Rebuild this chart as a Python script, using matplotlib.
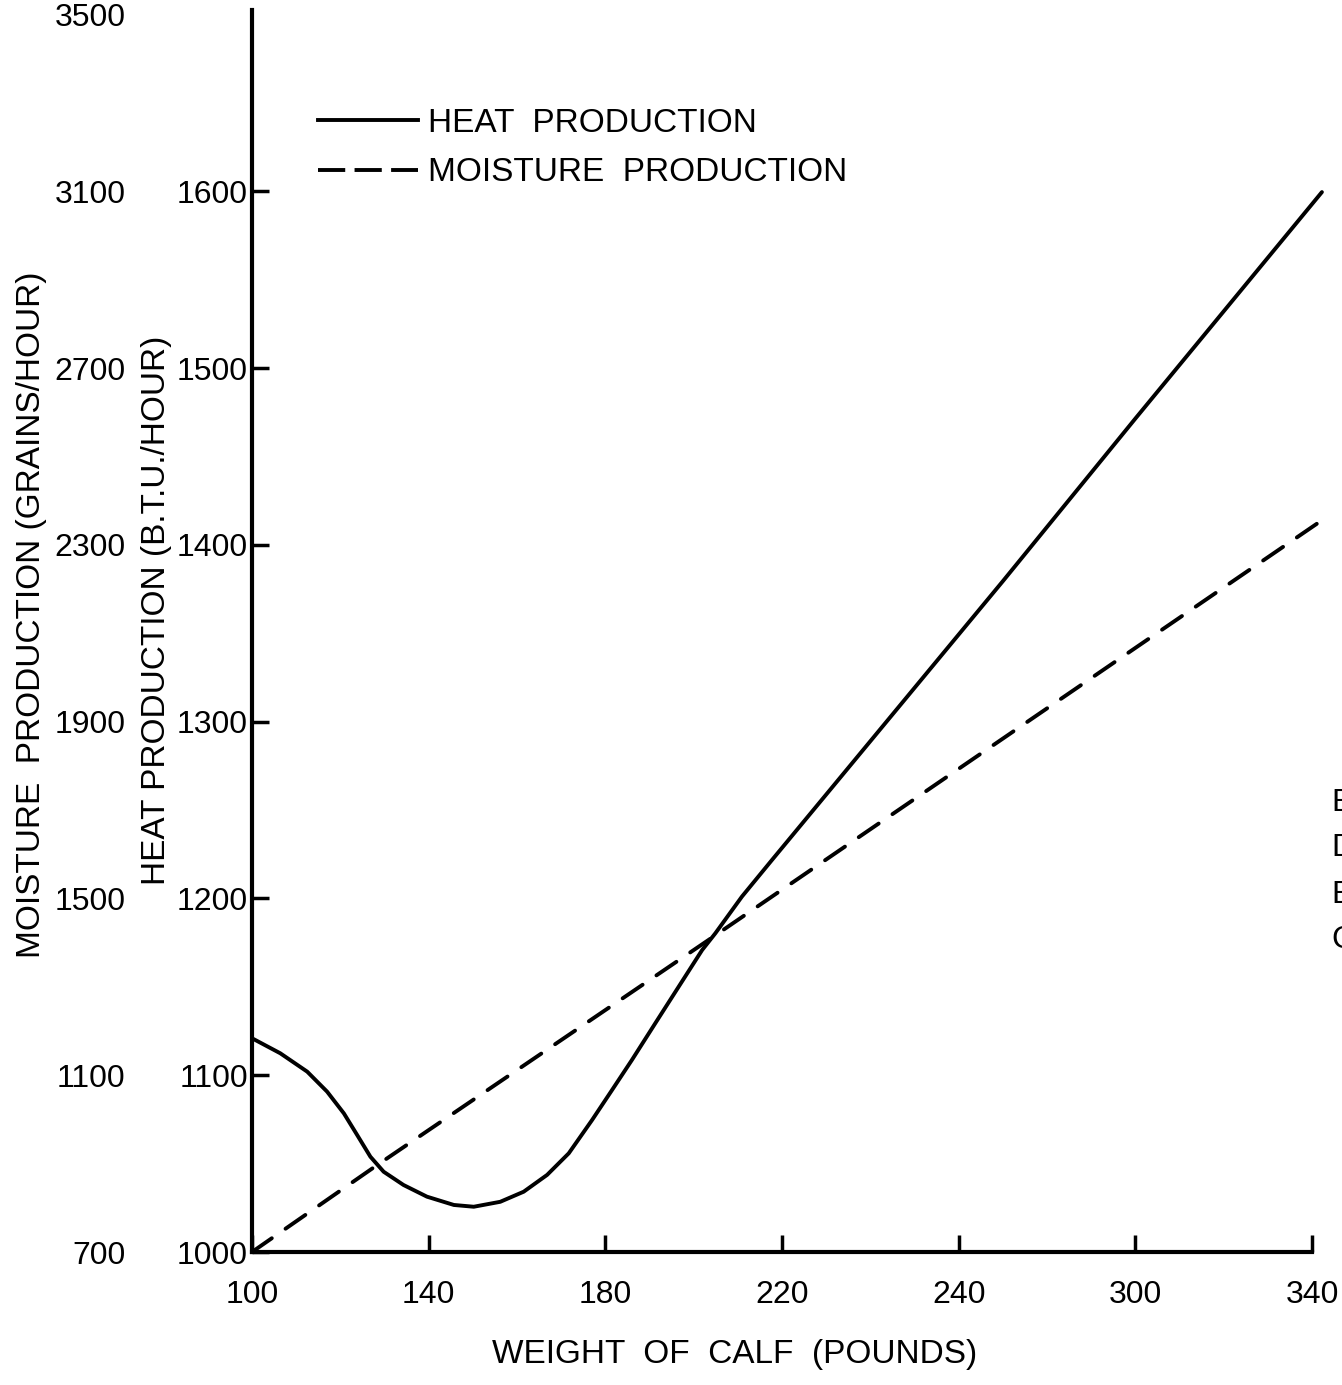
import matplotlib
matplotlib.use("Agg")
import matplotlib.pyplot as plt
from matplotlib.lines import Line2D

plt.rcParams['font.family'] = ['Liberation Sans', 'DejaVu Sans']

# ---- data (x in axis-position units; tick "240" sits at position 260 as on the original) ----
weight_ticks = [100, 140, 180, 220, 260, 300, 340]
weight_labels = ["100", "140", "180", "220", "240", "300", "340"]

heat_ticks = [1000, 1100, 1200, 1300, 1400, 1500, 1600]
moist_ticks = [700, 1100, 1500, 1900, 2300, 2700, 3100, 3500]

heat_x = [100.0, 106.4, 112.5, 117.0, 120.8, 123.8, 126.8, 129.8, 134.3, 139.6,
          145.7, 150.2, 156.2, 161.5, 166.8, 171.7, 177.0, 181.5, 186.0, 191.3,
          196.6, 201.9, 204.9, 210.9, 217.7, 270.0, 300.0, 342.2]
heat_y = [1120.9, 1112.4, 1102.0, 1090.7, 1078.4, 1066.2, 1053.9, 1045.4, 1037.9, 1031.3,
          1026.6, 1025.6, 1028.4, 1034.1, 1043.6, 1055.8, 1074.7, 1091.6, 1108.6, 1129.4,
          1150.1, 1170.8, 1180.3, 1201.0, 1221.7, 1379.5, 1471.5, 1599.5]

moist_x = [100.0, 127.8, 203.5, 343.3]
moist_y = [700.0, 893.0, 1407.0, 2363.0]

# ---- figure ----
W, H = 1342, 1385
fig = plt.figure(figsize=(W / 100, H / 100), dpi=100)
left_px, bottom_px, top_px = 252, 1252, 10
ax = fig.add_axes([left_px / W, (H - bottom_px) / H, (W - left_px) / W, (bottom_px - top_px) / H])

ymax = 1000 + (bottom_px - top_px) / 176.8 * 100
xmax = 100 + (W - left_px) * 40 / 176.7
ax.set_xlim(100, xmax)
ax.set_ylim(1000, ymax)

lw = 2.8
ax.plot(heat_x, heat_y, color='black', lw=lw, solid_capstyle='round', solid_joinstyle='round')

ax2 = ax.twinx()
ax2.set_ylim(700, 700 + 4 * (ymax - 1000))
ax2.plot(moist_x, moist_y, color='black', lw=lw, dashes=(6.2, 4.3), dash_capstyle='round')

fs = 23
ax_h = bottom_px - top_px
ax_w = W - left_px
# heat axis
for s in ['top', 'right']:
    ax.spines[s].set_visible(False)
ax.spines['left'].set_linewidth(3)
ax.spines['bottom'].set_linewidth(3)
ax.spines['bottom'].set_bounds(100, 340)
ax.set_xticks(weight_ticks)
ax.set_xticklabels(weight_labels)
ax.set_yticks(heat_ticks)
ax.tick_params(axis='x', direction='in', length=12, width=2.5, pad=20, labelsize=fs)
ax.tick_params(axis='y', direction='in', length=12, width=2.5, pad=3, labelsize=fs)
ax.set_ylabel("HEAT PRODUCTION (B.T.U./HOUR)", fontsize=24)
ax.yaxis.set_label_coords((172 - left_px) / ax_w, (bottom_px - 610) / ax_h)
ax.set_xlabel("WEIGHT  OF  CALF  (POUNDS)", fontsize=24)
ax.xaxis.set_label_coords((735 - left_px) / ax_w, -(1339 - bottom_px) / ax_h)

# moisture axis (labels only, on the far left)
for s in ['top', 'right', 'bottom', 'left']:
    ax2.spines[s].set_visible(False)
ax2.yaxis.tick_left()
ax2.yaxis.set_label_position('left')
ax2.spines['left'].set_position(('outward', 88))
ax2.set_yticks(moist_ticks)
ax2.tick_params(axis='y', length=0, pad=3, labelsize=fs)
ax2.set_ylabel("MOISTURE  PRODUCTION (GRAINS/HOUR)", fontsize=24)
ax2.yaxis.set_label_coords((47 - left_px) / ax_w, (bottom_px - 615) / ax_h)

# legend
handles = [Line2D([], [], color='black', lw=lw),
           Line2D([], [], color='black', lw=lw, dashes=(7.0, 2.4), dash_capstyle='butt')]
labels = ["HEAT  PRODUCTION", "MOISTURE  PRODUCTION"]
fig.legend(handles, labels, loc='upper left', bbox_to_anchor=(318 / W, 1 - 108 / H),
           frameon=False, fontsize=24, handlelength=3.0, handletextpad=0.3,
           labelspacing=0.55, borderpad=0, borderaxespad=0)

# cut-off letters from the neighbouring page at the right edge
for ch, yy in [("E", 803), ("D", 848), ("E", 895), ("C", 940)]:
    fig.text(1331 / W, 1 - yy / H, ch, fontsize=fs, ha='left', va='center')

fig.savefig("out.png", dpi=100)
